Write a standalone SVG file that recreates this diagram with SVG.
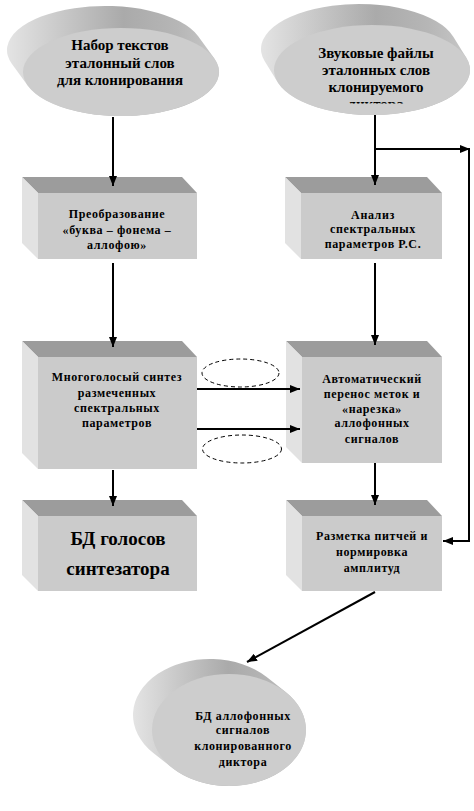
<svg xmlns="http://www.w3.org/2000/svg" width="474" height="811" viewBox="0 0 474 811">
<style>
.top{fill:#9c9c9c}
.front{fill:#cbcbcb}
.side{fill:#e2e2e2}
.band{fill:url(#bandGrad)}
.efront{fill:#cdcdcd}
.etxt{font-family:"Liberation Serif","Times New Roman",serif;font-weight:bold;font-size:15px;fill:#000;text-anchor:middle}
.btxt{font-family:"Liberation Serif","Times New Roman",serif;font-weight:bold;font-size:12px;letter-spacing:0.6px;fill:#000;text-anchor:middle}
.bigtxt{font-family:"Liberation Serif","Times New Roman",serif;font-weight:bold;font-size:19px;fill:#000;text-anchor:middle}
.conn{fill:none;stroke:#000;stroke-width:2}
.arr{marker-end:url(#ah)}
.dash{fill:none;stroke:#000;stroke-width:1;stroke-dasharray:4 3}
</style>
<defs>
<linearGradient id="bandGrad" x1="0" y1="0" x2="1" y2="0">
<stop offset="0" stop-color="#e4e4e4"/>
<stop offset="0.3" stop-color="#c4c4c4"/>
<stop offset="0.55" stop-color="#aaaaaa"/>
<stop offset="0.8" stop-color="#b6b6b6"/>
<stop offset="1" stop-color="#c8c8c8"/>
</linearGradient>
<marker id="ah" markerUnits="userSpaceOnUse" markerWidth="10" markerHeight="8" refX="10" refY="4" orient="auto">
<path d="M0,0 L10,4 L0,8 z" fill="#000"/>
</marker>
<clipPath id="clipR"><rect x="260" y="0" width="214" height="103.5"/></clipPath>
</defs>

<g id="e1">
<path class="band" d="M198.2,36.3 A98,44 0 0 0 11.8,63.7 L27.8,85.7 A98,44 0 0 0 214.2,58.3 Z"/>
<ellipse class="efront" cx="121" cy="72" rx="98" ry="44"/>
<text class="etxt" x="120" y="50">Набор текстов</text>
<text class="etxt" x="120" y="67.5">эталонный слов</text>
<text class="etxt" x="120" y="85">для клонирования</text>
</g>

<g id="e2">
<path class="band" d="M453.3,36.7 A98,45 0 0 0 264.7,61.3 L277.7,82.3 A98,45 0 0 0 466.3,57.7 Z"/>
<ellipse class="efront" cx="372" cy="70" rx="98" ry="45"/>
<text class="etxt" x="376" y="58">Звуковые файлы</text>
<text class="etxt" x="376" y="75">эталонных слов</text>
<text class="etxt" x="376" y="92">клонируемого</text>
<text class="etxt" x="376" y="108.5" clip-path="url(#clipR)">диктора</text>
</g>

<g id="b1">
<polygon class="top" points="22,177 182,177 197,193 38,193"/>
<polygon class="side" points="22,177 38,193 38,259 22,243"/>
<rect class="front" x="38" y="193" width="159" height="66"/>
<text class="btxt" x="117" y="218">Преобразование</text>
<text class="btxt" x="117" y="234">«буква – фонема –</text>
<text class="btxt" x="117" y="249">аллофою»</text>
</g>

<g id="b2">
<polygon class="top" points="285,177 427,177 442,193 301,193"/>
<polygon class="side" points="285,177 301,193 301,259 285,243"/>
<rect class="front" x="301" y="193" width="141" height="66"/>
<text class="btxt" x="373" y="219">Анализ</text>
<text class="btxt" x="373" y="233">спектральных</text>
<text class="btxt" x="373" y="248">параметров Р.С.</text>
</g>

<g id="b3">
<polygon class="top" points="22,341 182,341 197,357 38,357"/>
<polygon class="side" points="22,341 38,357 38,469 22,453"/>
<rect class="front" x="38" y="357" width="159" height="112"/>
<text class="btxt" x="117" y="381">Многоголосый синтез</text>
<text class="btxt" x="117" y="397">размеченных</text>
<text class="btxt" x="117" y="412">спектральных</text>
<text class="btxt" x="117" y="427">параметров</text>
</g>

<g id="b4">
<polygon class="top" points="286,341 427,341 442,357 302,357"/>
<polygon class="side" points="286,341 302,357 302,463 286,447"/>
<rect class="front" x="302" y="357" width="140" height="106"/>
<text class="btxt" x="372" y="383">Автоматический</text>
<text class="btxt" x="372" y="398">перенос меток и</text>
<text class="btxt" x="372" y="413">«нарезка»</text>
<text class="btxt" x="372" y="427">аллофонных</text>
<text class="btxt" x="372" y="443">сигналов</text>
</g>

<g id="b5">
<polygon class="top" points="22,500 182,500 197,516 38,516"/>
<polygon class="side" points="22,500 38,516 38,591 22,575"/>
<rect class="front" x="38" y="516" width="159" height="75"/>
<text class="bigtxt" x="118" y="545">БД голосов</text>
<text class="bigtxt" x="118" y="575">синтезатора</text>
</g>

<g id="b6">
<polygon class="top" points="286,500 427,500 442,516 302,516"/>
<polygon class="side" points="286,500 302,516 302,591 286,575"/>
<rect class="front" x="302" y="516" width="140" height="75"/>
<text class="btxt" x="372" y="540">Разметка питчей и</text>
<text class="btxt" x="372" y="556">нормировка</text>
<text class="btxt" x="372" y="572">амплитуд</text>
</g>

<g id="e3">
<path class="band" d="M266.7,677.1 A77,56 0 0 0 153.3,752.9 L172.3,767.9 A77,56 0 0 0 285.7,692.1 Z"/>
<ellipse class="efront" cx="229" cy="730" rx="77" ry="56"/>
<text class="btxt" x="243" y="720">БД аллофонных</text>
<text class="btxt" x="243" y="734">сигналов</text>
<text class="btxt" x="243" y="750">клонированного</text>
<text class="btxt" x="243" y="766">диктора</text>
</g>

<g id="connectors">
<path class="conn arr" d="M113,117 V186"/>
<path class="conn arr" d="M113,263 V347"/>
<path class="conn arr" d="M113,470 V506"/>
<path class="conn arr" d="M375,115 V185"/>
<path class="conn arr" d="M375,149 H470"/>
<path class="conn arr" d="M469,149 V541 H443"/>
<path class="conn arr" d="M375,263 V345"/>
<path class="conn arr" d="M375,463 V505"/>
<path class="conn arr" d="M197,389 H300"/>
<path class="conn arr" d="M197,429 H300"/>
<path class="conn arr" d="M375,592 L247,662"/>
<ellipse class="dash" cx="240.5" cy="373" rx="38.5" ry="14"/>
<ellipse class="dash" cx="242" cy="449" rx="39.5" ry="14"/>
</g>
</svg>
